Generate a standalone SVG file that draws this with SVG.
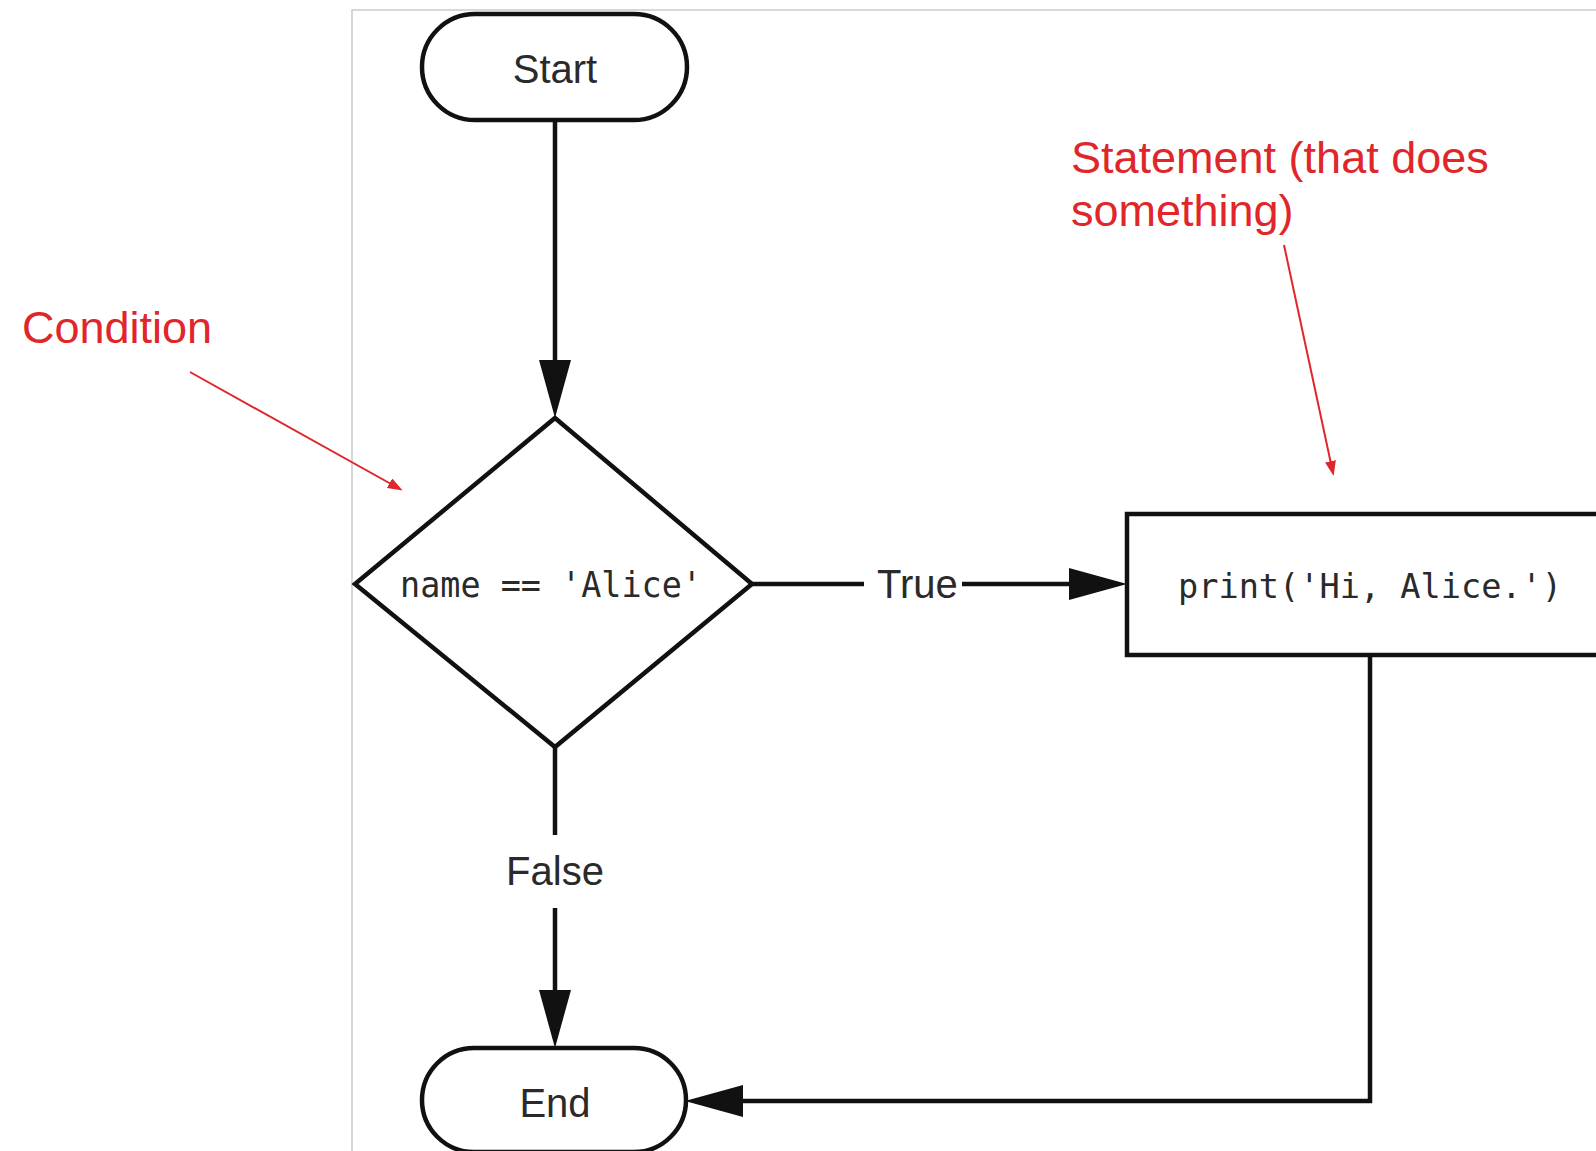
<svg xmlns="http://www.w3.org/2000/svg" width="1596" height="1151" viewBox="0 0 1596 1151">
<style>
.shape{fill:#fff;stroke:#111;stroke-width:4.5}
.conn{fill:none;stroke:#111;stroke-width:4.5}
.note{fill:none;stroke:#e0262a;stroke-width:2}
.lbl{font-family:"Liberation Sans",Arial,sans-serif;font-size:40px;fill:#2a2a2a}
.code{font-family:"DejaVu Sans Mono","Liberation Mono",monospace;fill:#2a2a2a}
.red{font-family:"Liberation Sans",Arial,sans-serif;font-size:45px;fill:#e0262a}
</style>
<defs>
<marker id="ah" markerUnits="userSpaceOnUse" markerWidth="60" markerHeight="34" refX="48" refY="16" orient="auto">
<path d="M0,0 L58,16 L0,32 z" fill="#111"/>
</marker>
<marker id="rh" markerUnits="userSpaceOnUse" markerWidth="16" markerHeight="12" refX="12" refY="5.5" orient="auto">
<path d="M0,0 L15,5.5 L0,11 z" fill="#e0262a"/>
</marker>
</defs>
<rect id="frame" x="352" y="10" width="1400" height="1300" fill="#fff" stroke="#cccccc" stroke-width="1.5"/>
<g id="connectors">
<line class="conn" x1="555" y1="120" x2="555" y2="408" marker-end="url(#ah)"/>
<line class="conn" x1="555" y1="747" x2="555" y2="835"/>
<line class="conn" x1="555" y1="908" x2="555" y2="1038" marker-end="url(#ah)"/>
<text class="lbl" x="555" y="885" text-anchor="middle">False</text>
<line class="conn" x1="752" y1="584" x2="864" y2="584"/>
<line class="conn" x1="962" y1="584" x2="1117" y2="584" marker-end="url(#ah)"/>
<text class="lbl" x="877" y="598">True</text>
<path class="conn" d="M1370,655 V1101 H695" marker-end="url(#ah)"/>
</g>
<g id="start">
<rect class="shape" x="422" y="14" width="265" height="106" rx="53"/>
<text class="lbl" x="555" y="83" text-anchor="middle">Start</text>
</g>
<g id="condition">
<polygon class="shape" points="555,418 752,584 555,747 355,584"/>
<text class="code" x="400" y="597" font-size="35" textLength="302" lengthAdjust="spacingAndGlyphs">name == 'Alice'</text>
</g>
<g id="statement">
<rect class="shape" x="1127" y="514" width="520" height="141"/>
<text class="code" x="1178" y="598" font-size="34" textLength="384" lengthAdjust="spacingAndGlyphs">print('Hi, Alice.')</text>
</g>
<g id="end">
<rect class="shape" x="422" y="1048" width="264" height="104" rx="52"/>
<text class="lbl" x="555" y="1117" text-anchor="middle">End</text>
</g>
<g id="annotations">
<text class="red" x="22" y="343">Condition</text>
<line class="note" x1="190" y1="372" x2="400" y2="489" marker-end="url(#rh)"/>
<text class="red" x="1071" y="173">Statement (that does</text>
<text class="red" x="1071" y="226">something)</text>
<line class="note" x1="1284" y1="245" x2="1333" y2="473" marker-end="url(#rh)"/>
</g>
</svg>
